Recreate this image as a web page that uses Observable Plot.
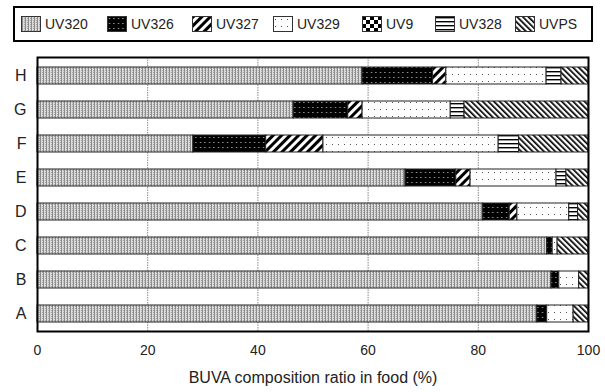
<!DOCTYPE html>
<html>
<head>
<meta charset="utf-8">
<script src="https://cdn.jsdelivr.net/npm/d3@7"></script>
<script src="https://cdn.jsdelivr.net/npm/@observablehq/plot@0.6"></script>
<style>
  body { margin: 0; background: #fff; font-family: "Liberation Sans", Arial, sans-serif; color: #222; }
  #wrap { position: relative; width: 605px; }
  #legend { position: relative; width: 605px; height: 50px; }
  #legend .box { position: absolute; left: 13px; top: 6px; width: 580px; height: 36px; border: 2px solid #000; box-sizing: border-box; }
  #legend .item { position: absolute; top: 16px; display: flex; align-items: center; font-size: 14px; line-height: 16px; }
  #legend .item svg { margin-right: 4px; }
</style>
</head>
<body>
<svg width="0" height="0" style="position:absolute">
  <defs>
    <pattern id="p-UV320" width="3" height="2" patternUnits="userSpaceOnUse">
      <rect width="3" height="2" fill="#dcdcdc"/>
      <rect x="1" y="0" width="1" height="2" fill="#8c8c8c"/>
      <rect x="0" y="0" width="1" height="1" fill="#a8a8a8"/>
    </pattern>
    <pattern id="p-UV326" width="4.5" height="5" patternUnits="userSpaceOnUse">
      <rect width="4.5" height="5" fill="#000"/>
      <rect x="2" y="2" width="1" height="1" fill="#ddd"/>
    </pattern>
    <pattern id="p-UV327" width="6" height="6" patternUnits="userSpaceOnUse" patternTransform="rotate(45)">
      <rect width="6" height="6" fill="#fff"/>
      <rect x="0" y="0" width="3" height="6" fill="#000"/>
    </pattern>
    <pattern id="p-UV329" width="6" height="7" patternUnits="userSpaceOnUse">
      <rect width="6" height="7" fill="#fff"/>
      <rect x="2" y="3" width="1" height="1" fill="#555"/>
    </pattern>
    <pattern id="p-UV9" width="8" height="8" patternUnits="userSpaceOnUse">
      <rect width="8" height="8" fill="#fff"/>
      <rect x="0" y="0" width="4" height="4" fill="#000"/>
      <rect x="4" y="4" width="4" height="4" fill="#000"/>
    </pattern>
    <pattern id="p-UV328" width="4" height="4" patternUnits="userSpaceOnUse">
      <rect width="4" height="4" fill="#fff"/>
      <rect x="0" y="1" width="4" height="1.4" fill="#000"/>
    </pattern>
    <pattern id="p-UVPS" width="4" height="4" patternUnits="userSpaceOnUse" patternTransform="rotate(-45)">
      <rect width="4" height="4" fill="#fff"/>
      <rect x="0" y="0" width="1.7" height="4" fill="#000"/>
    </pattern>
  </defs>
</svg>
<div id="wrap">
  <div id="legend"><div class="box"></div></div>
  <div id="chart"></div>
</div>
<script>
const foods = ["A", "B", "C", "D", "E", "F", "G", "H"];
const seriesNames = ["UV320", "UV326", "UV327", "UV329", "UV9", "UV328", "UVPS"];
const uv320 = [90.7, 93.3, 92.5, 80.9, 66.8, 28.3, 46.5, 59.0];
const uv326 = [1.8, 1.4, 1.0, 4.8, 9.2, 13.2, 9.9, 12.8];
const uv327 = [0, 0, 0, 1.4, 2.6, 10.4, 2.6, 2.4];
const uv329 = [4.8, 3.6, 0.9, 9.4, 15.6, 31.8, 16.0, 18.2];
const uv9 = [0, 0, 0, 0, 0, 0, 0, 0];
const uv328 = [0, 0, 0, 1.6, 1.8, 3.7, 2.5, 2.7];
const uvps = [2.7, 1.7, 5.6, 1.9, 4.0, 12.6, 22.5, 4.9];
const xTicks = [0, 20, 40, 60, 80, 100];
const xTitle = "BUVA composition ratio in food (%)";

const seriesValues = [uv320, uv326, uv327, uv329, uv9, uv328, uvps];
const rows = seriesNames.flatMap((s, i) =>
  foods.map((f, j) => ({food: f, series: s, value: seriesValues[i][j]}))
).filter(d => d.value > 0);

// Legend
const legendX = [21, 107, 192, 273, 362, 435, 515];
const legend = document.getElementById("legend");
seriesNames.forEach((s, i) => {
  const item = document.createElement("div");
  item.className = "item";
  item.style.left = legendX[i] + "px";
  item.innerHTML = `<svg width="20" height="16"><rect x="0.5" y="0.5" width="19" height="15" fill="url(#p-${s})" stroke="#333" stroke-width="1"/></svg><span>${s}</span>`;
  legend.appendChild(item);
});

const chart = Plot.plot({
  width: 605,
  height: 342,
  marginLeft: 37,
  marginRight: 17,
  marginTop: 7,
  marginBottom: 61,
  style: {fontFamily: "'Liberation Sans', Arial, sans-serif", color: "#222", background: "#fff"},
  x: {domain: [0, 100]},
  y: {domain: foods.slice().reverse(), paddingInner: 0.5, paddingOuter: 0.25},
  color: {type: "identity"},
  marks: [
    Plot.gridX({ticks: [20, 40, 60, 80], stroke: "#8a8a8a", strokeOpacity: 1, strokeDasharray: "1.5,1"}),
    Plot.barX(rows, Plot.stackX({
      x: "value", y: "food", z: "series", order: seriesNames,
      fill: d => `url(#p-${d.series})`, stroke: "#222", strokeWidth: 1
    })),
    Plot.axisX({ticks: xTicks, tickSize: 0, tickPadding: 14, fontSize: 14, label: null}),
    Plot.axisY({tickSize: 0, tickPadding: 11, fontSize: 16, label: null}),
    Plot.text([xTitle], {frameAnchor: "bottom", dy: 51, fontSize: 16, fill: "#222"}),
    Plot.frame({stroke: "#000", strokeWidth: 2})
  ]
});
document.getElementById("chart").appendChild(chart);
</script>
</body>
</html>
